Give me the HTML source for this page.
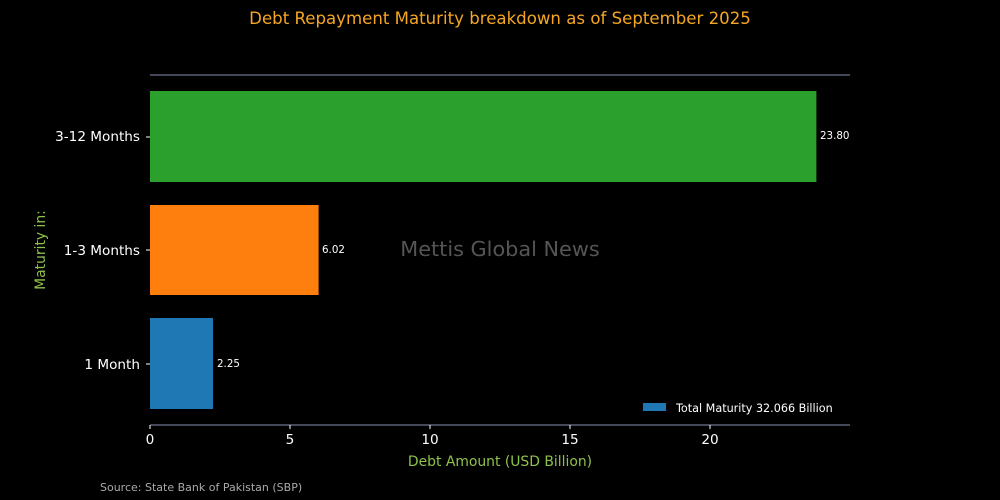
<!DOCTYPE html>
<html><head><style>body{margin:0;background:#000}svg{display:block}</style></head><body>
<svg width="1000" height="500" xmlns="http://www.w3.org/2000/svg" font-family="DejaVu Sans, sans-serif">
<rect width="1000" height="500" fill="#000"/>
<text x="500" y="24" fill="#f5a623" font-size="16.6" text-anchor="middle">Debt Repayment Maturity breakdown as of September 2025</text>
<line x1="150" y1="75" x2="850" y2="75" stroke="#8a8fb0" stroke-width="1"/>
<line x1="150" y1="425" x2="850" y2="425" stroke="#8a8fb0" stroke-width="1"/>
<rect x="150" y="91" width="666.4" height="91" fill="#2ca02c"/>
<rect x="150" y="205" width="168.6" height="90" fill="#ff7f0e"/>
<rect x="150" y="318" width="63" height="91" fill="#1f77b4"/>
<g fill="#fff" font-size="10.3">
<text x="820" y="139">23.80</text>
<text x="322" y="253">6.02</text>
<text x="217" y="367">2.25</text>
</g>
<g fill="#fff" font-size="13.6" text-anchor="end">
<text x="140" y="141">3-12 Months</text>
<text x="140" y="255">1-3 Months</text>
<text x="140" y="369">1 Month</text>
</g>
<g stroke="#fff"><line x1="146" y1="137" x2="150" y2="137"/><line x1="146" y1="250" x2="150" y2="250"/><line x1="146" y1="364" x2="150" y2="364"/>
<line x1="150" y1="425" x2="150" y2="429"/><line x1="290" y1="425" x2="290" y2="429"/><line x1="430" y1="425" x2="430" y2="429"/><line x1="570" y1="425" x2="570" y2="429"/><line x1="710" y1="425" x2="710" y2="429"/></g>
<g fill="#fff" font-size="13.6" text-anchor="middle">
<text x="150" y="444">0</text><text x="290" y="444">5</text><text x="430" y="444">10</text><text x="570" y="444">15</text><text x="710" y="444">20</text>
</g>
<text x="500" y="466" fill="#8fc24a" font-size="13.9" text-anchor="middle">Debt Amount (USD Billion)</text>
<text transform="translate(45,250) rotate(-90)" fill="#8fc24a" font-size="13.9" text-anchor="middle">Maturity in:</text>
<text x="500" y="256" fill="#555" font-size="20.8" text-anchor="middle">Mettis Global News</text>
<rect x="643" y="403" width="23" height="8" fill="#1f77b4"/>
<text x="676" y="412" fill="#fff" font-size="11.2">Total Maturity 32.066 Billion</text>
<text x="100" y="491" fill="#aaa" font-size="11">Source: State Bank of Pakistan (SBP)</text>
</svg>
</body></html>
